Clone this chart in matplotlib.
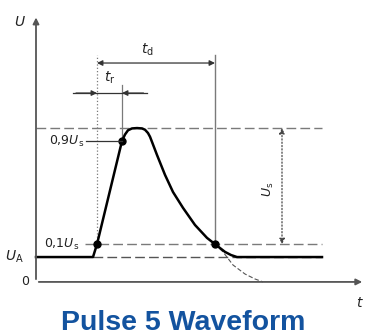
import matplotlib.pyplot as plt

# schematic units: time in ms, voltage in V
U_A = 13.5
U_S = 70.0
T_START = 114
T_10 = 122      # 0.1 Us crossing on the rise
T_90 = 172      # 0.9 Us crossing
T_FALL10 = 358  # 0.1 Us crossing on the decay

# waveform
wave_t = [0, 114, 122, 172, 178, 184, 192, 202, 212, 218, 224, 228, 232, 242, 258,
          274, 294, 318, 342, 358, 378, 390, 402, 572]
wave_v = [13.5, 13.5, 20.5, 76.5, 80.0, 82.3, 83.3, 83.5, 83.3, 82.6, 80.8, 78.8, 76.0,
          68.9, 58.1, 48.8, 40.2, 30.9, 23.9, 20.5, 16.3, 14.6, 13.5, 13.5]

# dashed continuation of the decay below U_A
tail_t = [358, 374, 394, 418, 438, 454]
tail_v = [20.5, 16.3, 9.2, 4.3, 1.6, 0.0]

fig = plt.figure(figsize=(3.66, 3.35), dpi=100)
ax = fig.add_axes([0, 0, 1, 1])
ax.set_xlim(-72, 660)
ax.set_ylim(-28.8, 153)
ax.axis("off")

grey = "#7a7a7a"
peak = max(wave_v)
v10 = U_A + 0.1 * U_S
v90 = U_A + 0.9 * U_S

# axes with arrows
ax.annotate("", xy=(658, 0), xytext=(0, 0),
            arrowprops=dict(arrowstyle="-|>", color="#555555", lw=1.3, mutation_scale=9))
ax.annotate("", xy=(0, 145), xytext=(0, 0),
            arrowprops=dict(arrowstyle="-|>", color="#555555", lw=1.3, mutation_scale=9))

# dashed reference levels
ax.plot([0, 572], [peak, peak], color=grey, lw=1, dashes=(7, 3))
ax.plot([98, 572], [v10, v10], color=grey, lw=1, dashes=(7, 3))
ax.plot([T_START, 572], [U_A, U_A], color="#555555", lw=1, dashes=(7, 3))

# vertical guides
ax.plot([T_10, T_10], [v10, 123], color=grey, lw=0.9, ls=":")
ax.plot([T_90, T_90], [v90, 107], color=grey, lw=0.9)
ax.plot([T_FALL10, T_FALL10], [v10, 123], color=grey, lw=1.0)

# waveform
ax.plot(tail_t, tail_v, color="#555555", lw=0.8, dashes=(4, 2))
ax.plot(wave_t, wave_v, color="black", lw=1.8, solid_joinstyle="round")
ax.plot([T_10, T_90, T_FALL10], [v10, v90, v10], "o", color="black", ms=5)

# leader for 0,9 Us
ax.plot([100, T_90], [v90, v90], color="#333333", lw=0.9)

# t_d dimension
ax.annotate("", xy=(T_10, 118.8), xytext=(T_FALL10, 118.8),
            arrowprops=dict(arrowstyle="<|-|>", color="#333333", lw=0.9, mutation_scale=8,
                            shrinkA=0, shrinkB=0))
# t_r dimension (arrows from outside)
ax.plot([74, 222], [102.5, 102.5], color="#333333", lw=0.9)
ax.annotate("", xy=(T_10, 102.5), xytext=(80, 102.5),
            arrowprops=dict(arrowstyle="-|>", color="#333333", lw=0.9, mutation_scale=8,
                            shrinkA=0, shrinkB=0))
ax.annotate("", xy=(T_90, 102.5), xytext=(215, 102.5),
            arrowprops=dict(arrowstyle="-|>", color="#333333", lw=0.9, mutation_scale=8,
                            shrinkA=0, shrinkB=0))
# Us dimension
ax.annotate("", xy=(492, peak), xytext=(492, v10),
            arrowprops=dict(arrowstyle="<|-|>", color="#444444", lw=0.9, ls=":",
                            mutation_scale=8, shrinkA=0, shrinkB=0))

plt.rcParams["mathtext.fontset"] = "dejavusans"
fs = 9
tc = "#222222"
ax.text(-32, 141, "$U$", fontsize=fs + 1, color=tc, ha="center", va="center")
ax.text(648, -11.5, "$t$", fontsize=fs + 1, color=tc, ha="center", va="center")
ax.text(222, 126, r"$t_\mathrm{d}$", fontsize=fs + 1, color=tc, ha="center", va="center")
ax.text(148, 110.7, r"$t_\mathrm{r}$", fontsize=fs + 1, color=tc, ha="center", va="center")
ax.text(96, v90, r"$0{,}9U_\mathrm{s}$", fontsize=fs, color=tc, ha="right", va="center")
ax.text(87, v10, r"$0{,}1U_\mathrm{s}$", fontsize=fs, color=tc, ha="right", va="center")
ax.text(-25, U_A, r"$U_\mathrm{A}$", fontsize=fs + 1, color=tc, ha="right", va="center")
ax.text(-20, 0, "$0$", fontsize=fs, color=tc, ha="center", va="center")
ax.text(464, 50, r"$U_\mathrm{s}$", fontsize=fs, color=tc, ha="center", va="center",
        rotation=90)

fig.text(0.5, 0.036, "Pulse 5 Waveform", fontsize=20.5, fontweight="bold",
         family="Liberation Sans", color="#13539f", ha="center", va="center")

fig.savefig("out.png", dpi=100, facecolor="white")
